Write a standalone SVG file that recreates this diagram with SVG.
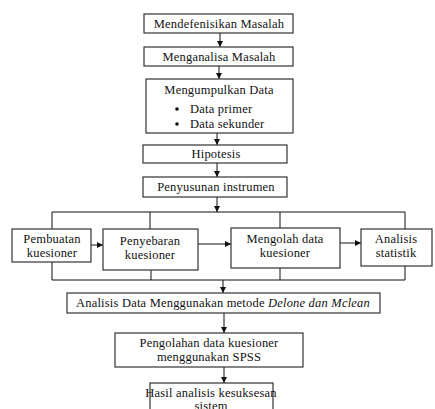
<svg xmlns="http://www.w3.org/2000/svg" width="435" height="409" viewBox="0 0 435 409">
<defs>
<marker id="ah" viewBox="0 0 10 10" refX="10" refY="5" markerWidth="6" markerHeight="6" markerUnits="userSpaceOnUse" orient="auto">
<path d="M0,0 L10,5 L0,10 z" fill="#111"/>
</marker>
<style>
.box{fill:#fff;stroke:#333;stroke-width:1.2}
.t{text-anchor:middle}
.ln{fill:none;stroke:#111;stroke-width:1}
.ar{fill:none;stroke:#111;stroke-width:1;marker-end:url(#ah)}
</style>
</defs>
<rect width="435" height="409" fill="#fff"/>
<g id="connectors">
<line class="ar" x1="220" y1="33" x2="220" y2="47"/>
<line class="ar" x1="219" y1="66" x2="219" y2="79"/>
<line class="ar" x1="217" y1="133" x2="217" y2="145"/>
<line class="ar" x1="217" y1="163" x2="217" y2="177"/>
<line class="ar" x1="217" y1="197" x2="217" y2="212"/>
<polyline class="ln" points="52,229 52,212 405,212 405,229"/>
<line class="ln" x1="150" y1="212" x2="150" y2="229"/>
<line class="ln" x1="280" y1="212" x2="280" y2="228"/>
<polyline class="ln" points="52,262 52,280 405,280 405,266"/>
<line class="ln" x1="151" y1="270" x2="151" y2="280"/>
<line class="ln" x1="280" y1="268" x2="280" y2="280"/>
<line class="ar" x1="91" y1="245" x2="103" y2="245"/>
<line class="ar" x1="198" y1="244" x2="231" y2="244"/>
<line class="ar" x1="340" y1="243" x2="361" y2="243"/>
<line class="ar" x1="223" y1="280" x2="223" y2="293"/>
<line class="ar" x1="224" y1="313" x2="224" y2="333"/>
<line class="ar" x1="224" y1="367" x2="224" y2="383"/>
</g>
<g font-family="Liberation Serif, DejaVu Serif, serif" font-size="12.5" fill="#111" letter-spacing="0.2">
<g id="n1"><rect class="box" x="144" y="14" width="149" height="19"/><text class="t" x="219" y="28">Mendefenisikan Masalah</text></g>
<g id="n2"><rect class="box" x="144" y="47" width="149" height="19"/><text class="t" x="219" y="61">Menganalisa Masalah</text></g>
<g id="n3"><rect class="box" x="146" y="79" width="147" height="54"/><text class="t" x="219" y="94">Mengumpulkan Data</text>
<circle cx="177" cy="109" r="1.8" fill="#111"/><circle cx="177" cy="124" r="1.8" fill="#111"/>
<text x="190" y="113">Data primer</text><text x="190" y="128">Data sekunder</text></g>
<g id="n4"><rect class="box" x="143" y="145" width="144" height="18"/><text class="t" x="216" y="158">Hipotesis</text></g>
<g id="n5"><rect class="box" x="143" y="177" width="144" height="20"/><text class="t" x="216" y="191">Penyusunan instrumen</text></g>
<g id="n6"><rect class="box" x="12" y="229" width="79" height="33"/><text class="t" x="52" y="243">Pembuatan</text><text class="t" x="52" y="257">kuesioner</text></g>
<g id="n7"><rect class="box" x="103" y="229" width="95" height="41"/><text class="t" x="150" y="245">Penyebaran</text><text class="t" x="150" y="259">kuesioner</text></g>
<g id="n8"><rect class="box" x="231" y="228" width="109" height="40"/><text class="t" x="285" y="243">Mengolah data</text><text class="t" x="285" y="257">kuesioner</text></g>
<g id="n9"><rect class="box" x="361" y="229" width="71" height="37"/><text class="t" x="396" y="243">Analisis</text><text class="t" x="396" y="257">statistik</text></g>
<g id="n10"><rect class="box" x="67" y="293" width="313" height="20"/><text class="t" x="223" y="307">Analisis Data Menggunakan metode <tspan font-style="italic">Delone dan Mclean</tspan></text></g>
<g id="n11"><rect class="box" x="115" y="333" width="188" height="34"/><text class="t" x="209" y="347">Pengolahan data kuesioner</text><text class="t" x="209" y="361">menggunakan SPSS</text></g>
<g id="n12"><rect class="box" x="150" y="383" width="123" height="30"/><text class="t" x="211" y="397">Hasil analisis kesuksesan</text><text class="t" x="211" y="410">sistem</text></g>
</g>
</svg>
